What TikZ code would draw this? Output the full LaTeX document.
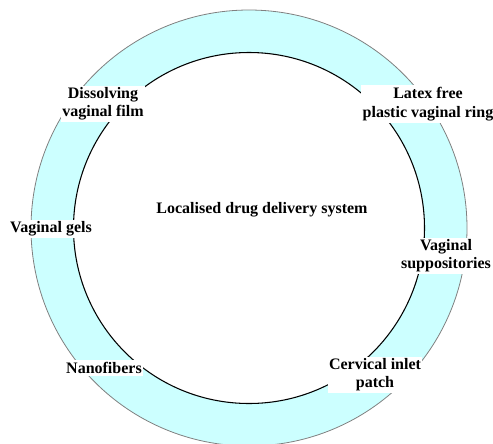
\documentclass[tikz,border=0pt]{standalone}
\usepackage{fontspec}
\setmainfont{Liberation Serif}
\definecolor{ringfill}{HTML}{CCFFFF}
\tikzset{
  item/.style={fill=white, inner xsep=1pt, inner ysep=1.5pt, align=center,
    font=\bfseries\fontsize{12}{13.7}\selectfont},
  hub/.style={font=\bfseries\fontsize{12}{13.7}\selectfont}
}
\begin{document}
\begin{tikzpicture}[x=0.75pt,y=-0.75pt]
    \useasboundingbox (0,0) rectangle (493,443);
    \coordinate (c) at (249,228);
    \fill[ringfill, even odd rule] (c) circle (218) (c) circle (175.5);
    \draw[gray, line width=0.6pt] (c) circle (218);
    \draw[black, line width=0.8pt] (c) circle (175.5);
    \node[hub] (lds) at (262,210) {Localised drug delivery system};
    \node[item] (film) at (103,104) {Dissolving\\vaginal film};
    \node[item] (ring) at (428,104) {Latex free\\plastic vaginal ring};
    \node[item] (gels) at (51,229) {Vaginal gels};
    \node[item] (supp) at (446,256) {Vaginal\\suppositories};
    \node[item] (nano) at (104,368) {Nanofibers};
    \node[item] (patch) at (375,375) {Cervical inlet\\patch};
\end{tikzpicture}
\end{document}
